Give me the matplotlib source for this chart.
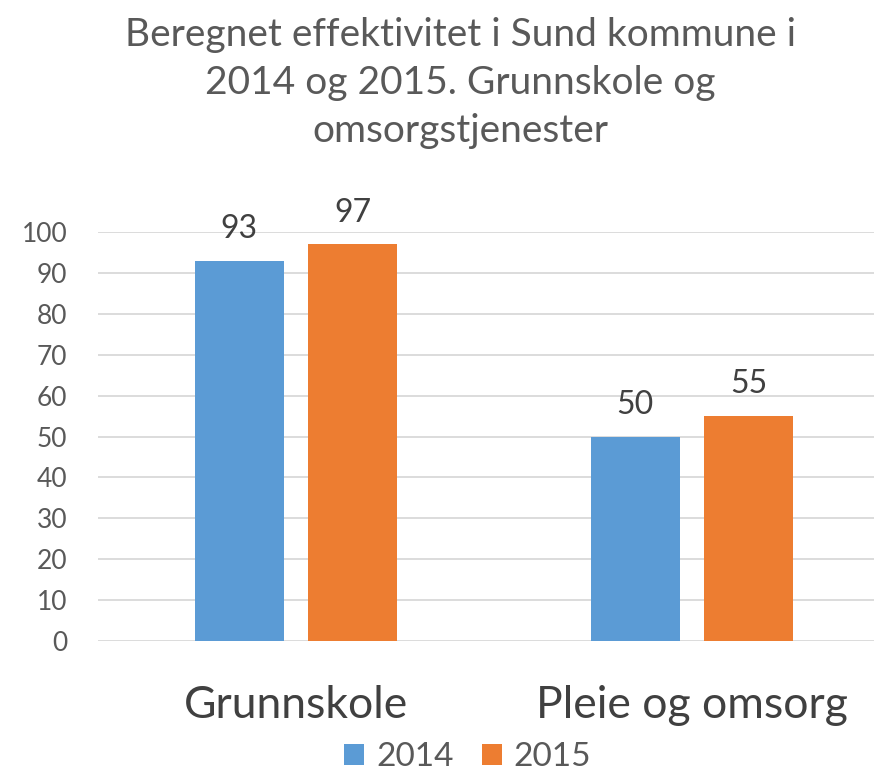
import numpy as np
import matplotlib.pyplot as plt

plt.rcParams['font.family'] = ['Lato', 'DejaVu Sans']

categories = ['Grunnskole', 'Pleie og omsorg']
years = ['2014', '2015']
values_2014 = [93, 50]
values_2015 = [97, 55]
yticks = [0, 10, 20, 30, 40, 50, 60, 70, 80, 90, 100]

text_col = '#595959'
colors = ['#5B9BD5', '#ED7D31']

fig = plt.figure(figsize=(8.74, 7.71), dpi=100)
ax = fig.add_axes([0.112, 0.1686, 0.888, 0.5305])

x = np.arange(len(categories))
w = 0.225
off = 0.143
b1 = ax.bar(x - off, values_2014, w, color=colors[0], label=years[0], zorder=3)
b2 = ax.bar(x + off, values_2015, w, color=colors[1], label=years[1], zorder=3)

for bars in (b1, b2):
    ax.bar_label(bars, padding=12, fontsize=23, color='#404040')

ax.set_xlim(-0.5, 1.46)
ax.set_ylim(0, 100)
ax.set_yticks(yticks)
ax.set_xticks(x)
ax.set_xticklabels(categories, fontsize=32, color='#404040')
ax.tick_params(axis='x', length=0, pad=32)
ax.tick_params(axis='y', length=0, labelsize=19, labelcolor=text_col, pad=22)
ax.grid(axis='y', color='#D9D9D9', linewidth=1.3, zorder=0)
for s in ax.spines.values():
    s.set_visible(False)

fig.text(0.527, 0.978, 'Beregnet effektivitet i Sund kommune i\n2014 og 2015. Grunnskole og\nomsorgstjenester',
         ha='center', va='top', fontsize=28, color=text_col, linespacing=1.42)

fig.legend(handles=[b1, b2], loc='lower center', bbox_to_anchor=(0.535, -0.04), ncol=2,
           frameon=False, fontsize=24, labelcolor=text_col, handlelength=0.6,
           handleheight=0.6, handletextpad=0.35, columnspacing=0.85)

fig.savefig('out.png', dpi=100)
